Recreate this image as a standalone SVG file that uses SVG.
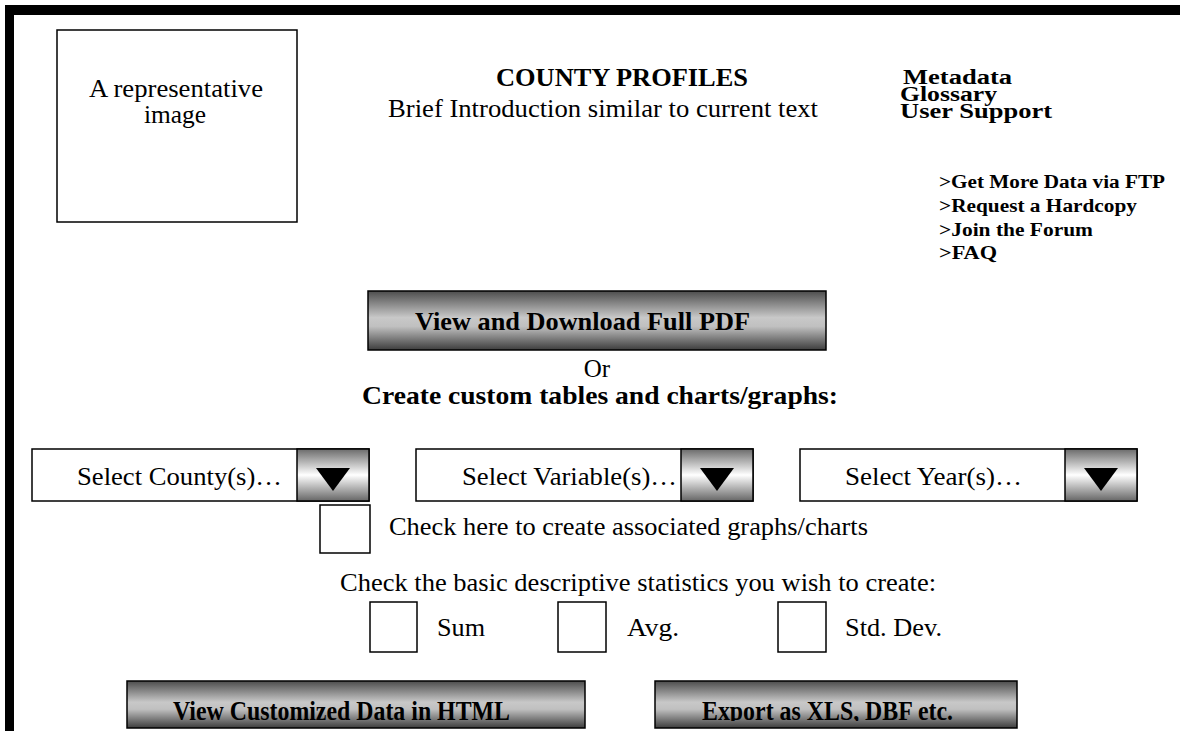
<svg xmlns="http://www.w3.org/2000/svg" width="1180" height="731" viewBox="0 0 1180 731">
  <defs>
    <linearGradient id="btnShade" x1="0" y1="0" x2="0" y2="1">
      <stop offset="0" stop-color="#4d4d4d"/>
      <stop offset="0.45" stop-color="#c8c8c8"/>
      <stop offset="0.6" stop-color="#c0c0c0"/>
      <stop offset="1" stop-color="#3d3d3d"/>
    </linearGradient>
    <linearGradient id="arrowShade" x1="0" y1="0" x2="0" y2="1">
      <stop offset="0" stop-color="#6b6b6b"/>
      <stop offset="0.5" stop-color="#ffffff"/>
      <stop offset="1" stop-color="#666666"/>
    </linearGradient>
    <clipPath id="clipHtml"><rect x="127" y="681" width="458" height="40"/></clipPath>
    <clipPath id="clipExport"><rect x="655" y="681" width="362" height="40"/></clipPath>
  </defs>
  <style>
    .serif { font-family: "Liberation Serif", "Times New Roman", serif; fill: #000; }
    .reg { font-size: 25px; }
    .bold { font-weight: bold; }
    .menu { font-size: 20px; font-weight: bold; }
    .link { font-size: 18px; font-weight: bold; }
    .box { fill: #fff; stroke: #000; stroke-width: 1.5; }
    .btn { fill: url(#btnShade); stroke: #000; stroke-width: 1.5; }
    .arrow { fill: url(#arrowShade); stroke: #000; stroke-width: 1.5; }
    .tri { fill: #000; }
  </style>

  <rect width="1180" height="731" fill="#fff"/>

  <!-- page frame -->
  <g id="frame">
    <rect x="5" y="5" width="1175" height="10" fill="#000"/>
    <rect x="5" y="5" width="9" height="726" fill="#000"/>
  </g>

  <!-- placeholder picture -->
  <g id="image-box">
    <rect class="box" x="57" y="30" width="240" height="192"/>
    <text class="serif reg" x="176" y="97" text-anchor="middle" textLength="174" lengthAdjust="spacingAndGlyphs">A representative</text>
    <text class="serif reg" x="175" y="123" text-anchor="middle" textLength="62" lengthAdjust="spacingAndGlyphs">image</text>
  </g>

  <!-- heading -->
  <g id="heading">
    <text class="serif reg bold" x="496" y="86" textLength="252" lengthAdjust="spacingAndGlyphs">COUNTY PROFILES</text>
    <text class="serif reg" x="388" y="117" textLength="430" lengthAdjust="spacingAndGlyphs">Brief Introduction similar to current text</text>
  </g>

  <!-- top-right menu -->
  <g id="menu">
    <text class="serif menu" x="903" y="84" textLength="109" lengthAdjust="spacingAndGlyphs">Metadata</text>
    <text class="serif menu" x="900" y="101" textLength="97" lengthAdjust="spacingAndGlyphs">Glossary</text>
    <text class="serif menu" x="900" y="118" textLength="152" lengthAdjust="spacingAndGlyphs">User Support</text>
  </g>

  <g id="links">
    <text class="serif link" x="939" y="188" textLength="226" lengthAdjust="spacingAndGlyphs">&gt;Get More Data via FTP</text>
    <text class="serif link" x="939" y="212" textLength="198" lengthAdjust="spacingAndGlyphs">&gt;Request a Hardcopy</text>
    <text class="serif link" x="939" y="236" textLength="154" lengthAdjust="spacingAndGlyphs">&gt;Join the Forum</text>
    <text class="serif link" x="939" y="259" textLength="58" lengthAdjust="spacingAndGlyphs">&gt;FAQ</text>
  </g>

  <!-- full PDF button -->
  <g id="pdf-button">
    <rect class="btn" x="368" y="291" width="458" height="59"/>
    <text class="serif reg bold" x="415" y="330" textLength="335" lengthAdjust="spacingAndGlyphs">View and Download Full PDF</text>
  </g>

  <g id="custom-heading">
    <text class="serif reg" x="597" y="377" text-anchor="middle">Or</text>
    <text class="serif reg bold" x="362" y="404" textLength="476" lengthAdjust="spacingAndGlyphs">Create custom tables and charts/graphs:</text>
  </g>

  <!-- selectors -->
  <g id="select-county">
    <rect class="box" x="32" y="449" width="337" height="52"/>
    <rect class="arrow" x="297" y="449" width="72" height="52"/>
    <polygon class="tri" points="316,468 350,468 333,491"/>
    <text class="serif reg" x="77" y="485" textLength="205" lengthAdjust="spacingAndGlyphs">Select County(s)…</text>
  </g>

  <g id="select-variable">
    <rect class="box" x="416" y="449" width="337" height="52"/>
    <rect class="arrow" x="681" y="449" width="72" height="52"/>
    <polygon class="tri" points="700,468 734,468 717,491"/>
    <text class="serif reg" x="462" y="485" textLength="215" lengthAdjust="spacingAndGlyphs">Select Variable(s)…</text>
  </g>

  <g id="select-year">
    <rect class="box" x="800" y="449" width="337" height="52"/>
    <rect class="arrow" x="1065" y="449" width="72" height="52"/>
    <polygon class="tri" points="1084,468 1118,468 1101,491"/>
    <text class="serif reg" x="845" y="485" textLength="177" lengthAdjust="spacingAndGlyphs">Select Year(s)…</text>
  </g>

  <!-- chart option -->
  <g id="chart-option">
    <rect class="box" x="320" y="505" width="50" height="48"/>
    <text class="serif reg" x="389" y="535" textLength="479" lengthAdjust="spacingAndGlyphs">Check here to create associated graphs/charts</text>
  </g>

  <!-- statistics options -->
  <g id="stats-prompt">
    <text class="serif reg" x="340" y="591" textLength="596" lengthAdjust="spacingAndGlyphs">Check the basic descriptive statistics you wish to create:</text>
  </g>
  <g id="stat-sum">
    <rect class="box" x="370" y="602" width="47" height="50"/>
    <text class="serif reg" x="437" y="636" textLength="48" lengthAdjust="spacingAndGlyphs">Sum</text>
  </g>
  <g id="stat-avg">
    <rect class="box" x="558" y="602" width="48" height="50"/>
    <text class="serif reg" x="627" y="636" textLength="52" lengthAdjust="spacingAndGlyphs">Avg.</text>
  </g>
  <g id="stat-std">
    <rect class="box" x="778" y="602" width="48" height="50"/>
    <text class="serif reg" x="845" y="636" textLength="97" lengthAdjust="spacingAndGlyphs">Std. Dev.</text>
  </g>

  <!-- output buttons: labels are cut off by the button edge -->
  <g id="html-button">
    <rect class="btn" x="127" y="681" width="458" height="47"/>
    <g clip-path="url(#clipHtml)">
      <text class="serif bold" font-size="24" transform="translate(173 720) scale(1 1.12)" textLength="337" lengthAdjust="spacingAndGlyphs">View Customized Data in HTML</text>
    </g>
  </g>
  <g id="export-button">
    <rect class="btn" x="655" y="681" width="362" height="47"/>
    <g clip-path="url(#clipExport)">
      <text class="serif bold" font-size="24" transform="translate(702 720) scale(1 1.12)" textLength="251" lengthAdjust="spacingAndGlyphs">Export as XLS, DBF etc.</text>
    </g>
  </g>
</svg>
